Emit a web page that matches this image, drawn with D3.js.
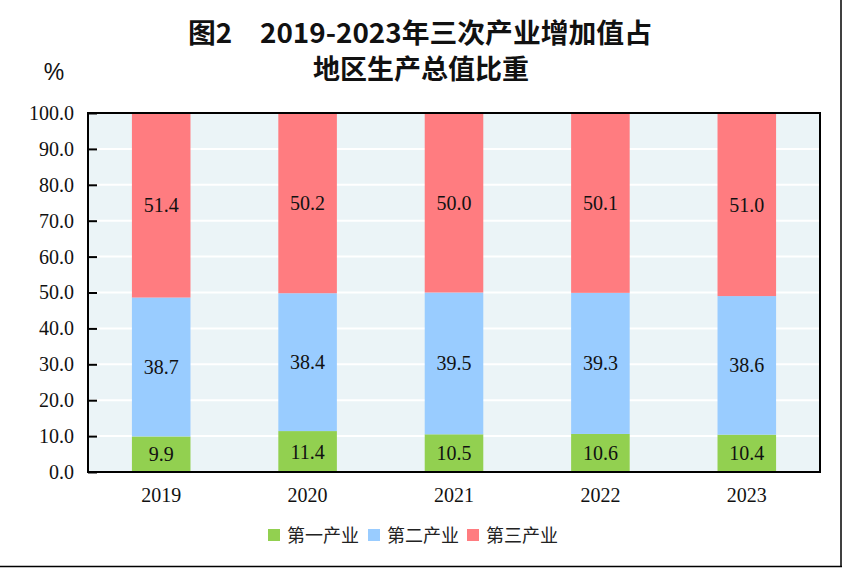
<!DOCTYPE html>
<html><head><meta charset="utf-8">
<script src="https://cdn.jsdelivr.net/npm/d3@7"></script>
<style>body{margin:0;background:#fff}svg{display:block}</style>
</head><body>
<svg id="c" width="843" height="568"></svg>
<script>
const years = ["2019","2020","2021","2022","2023"];
const primary = [9.9, 11.4, 10.5, 10.6, 10.4];
const secondary = [38.7, 38.4, 39.5, 39.3, 38.6];
const tertiary = [51.4, 50.2, 50.0, 50.1, 51.0];
const seriesNames = ["第一产业","第二产业","第三产业"];
const yTicks = [0,10,20,30,40,50,60,70,80,90,100];
const colors = ["#92d050","#99ccff","#ff7c80"];

const svg = d3.select("#c");
const W=843,H=568;
const m={l:88,r:23,t:113,b:96};
const x=d3.scaleBand().domain(years).range([m.l,W-m.r]).paddingInner(0.6).paddingOuter(0.3);
const y=d3.scaleLinear().domain([0,100]).range([H-m.b,m.t]);
const serif="'Times New Roman','Liberation Serif',serif";
const cjk="'Noto Sans CJK SC',sans-serif";

// outer frame (right & bottom)
svg.append("line").attr("x1",841).attr("x2",841).attr("y1",0).attr("y2",567).attr("stroke","#000").attr("stroke-width",1.5);
svg.append("line").attr("x1",0).attr("x2",842).attr("y1",566.5).attr("y2",566.5).attr("stroke","#000").attr("stroke-width",1.5);

// title
svg.append("text").attr("x",420).attr("y",43).attr("text-anchor","middle")
  .attr("font-family",cjk).attr("font-weight","bold").attr("font-size",27).attr("fill","#111")
  .attr("textLength",464).attr("lengthAdjust","spacingAndGlyphs")
  .text("图2　2019-2023年三次产业增加值占");
svg.append("text").attr("x",421).attr("y",79).attr("text-anchor","middle")
  .attr("font-family",cjk).attr("font-weight","bold").attr("font-size",27).attr("fill","#111")
  .text("地区生产总值比重");
svg.append("text").attr("x",54).attr("y",80).attr("text-anchor","middle")
  .attr("font-family","'Liberation Sans Narrow','Liberation Sans',sans-serif").attr("font-size",23).attr("fill","#111").text("%");

// plot background
svg.append("rect").attr("x",m.l).attr("y",m.t).attr("width",W-m.r-m.l).attr("height",H-m.b-m.t).attr("fill","#ebf4f7");
// gridlines
svg.append("g").selectAll("line").data(yTicks.filter(d=>d>0&&d<100)).join("line")
  .attr("x1",m.l).attr("x2",W-m.r).attr("y1",d=>y(d)).attr("y2",d=>y(d)).attr("stroke","#fff").attr("stroke-width",2);

// stacked bars
const rows = years.map((yr,i)=>({year:yr,s0:primary[i],s1:secondary[i],s2:tertiary[i]}));
const stack=d3.stack().keys(["s0","s1","s2"])(rows);
stack.forEach((layer,k)=>{
  const g=svg.append("g");
  g.selectAll("rect").data(layer).join("rect")
    .attr("x",d=>x(d.data.year)).attr("width",x.bandwidth())
    .attr("y",d=>y(d[1])).attr("height",d=>y(d[0])-y(d[1]))
    .attr("fill",colors[k]);
  g.selectAll("text").data(layer).join("text")
    .attr("x",d=>x(d.data.year)+x.bandwidth()/2).attr("y",d=>y((d[0]+d[1])/2)+7)
    .attr("text-anchor","middle").attr("font-family",serif).attr("font-size",20).attr("fill","#111")
    .text(d=>(d[1]-d[0]).toFixed(1));
});

// axes
const yAxis=d3.axisLeft(y).tickValues(yTicks).tickFormat(d3.format(".1f")).tickSize(-9).tickPadding(14);
const ya=svg.append("g").attr("transform",`translate(${m.l},0)`).call(yAxis);
ya.select(".domain").remove();
ya.selectAll(".tick line").attr("stroke","#000").attr("stroke-width",2);
ya.selectAll("text").attr("font-family",serif).attr("font-size",20).attr("fill","#111");

const xAxis=d3.axisBottom(x).tickSize(0).tickPadding(16);
const xa=svg.append("g").attr("transform",`translate(0,${H-m.b})`).call(xAxis);
xa.select(".domain").remove();
xa.selectAll("text").attr("font-family",serif).attr("font-size",20).attr("fill","#111");

// plot frame
svg.append("rect").attr("x",m.l).attr("y",m.t).attr("width",W-m.r-m.l).attr("height",H-m.b-m.t)
  .attr("fill","none").attr("stroke","#000").attr("stroke-width",2);

// legend
const lx=[268,368,467];
const lg=svg.append("g");
seriesNames.forEach((n,i)=>{
  lg.append("rect").attr("x",lx[i]).attr("y",529).attr("width",12).attr("height",12).attr("fill",colors[i]);
  lg.append("text").attr("x",lx[i]+19).attr("y",542).attr("font-family",cjk).attr("font-size",18).attr("fill","#222").text(n);
});
</script>
</body></html>
